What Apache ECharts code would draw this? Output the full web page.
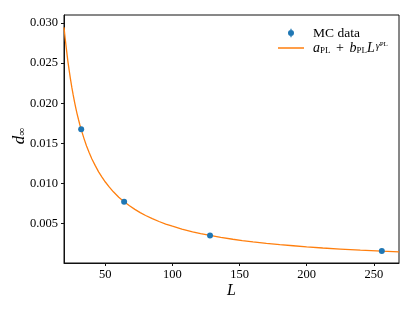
<!DOCTYPE html>
<html><head><meta charset="utf-8">
<script src="https://cdn.jsdelivr.net/npm/echarts@6/dist/echarts.min.js"></script>
<style>html,body{margin:0;padding:0;background:#fff}#c{width:415px;height:311px}</style>
</head><body><div id="c"></div>
<script>
// Data
const mcL = [32, 64, 128, 256];
const mcD = [0.01675, 0.00773, 0.00354, 0.00158];
const fitL = [19.2, 20, 21, 22, 23, 24, 25, 26, 27, 28, 29, 30, 31, 32, 34, 36, 38, 40, 42.5, 45, 47.5, 50, 53, 56, 60, 64, 68, 72, 76, 80, 85, 90, 95, 100, 107, 115, 121, 128, 136, 145, 152, 160, 170, 180, 190, 200, 212, 225, 240, 256, 268.8];
const fitD = [0.02946, 0.02818, 0.02674, 0.02535, 0.02417, 0.02304, 0.02201, 0.02107, 0.02021, 0.01940, 0.01865, 0.01798, 0.01733, 0.01675, 0.01566, 0.01468, 0.01383, 0.01306, 0.01223, 0.01146, 0.01080, 0.01019, 0.00955, 0.00897, 0.00830, 0.00774, 0.00723, 0.00678, 0.00638, 0.00602, 0.00562, 0.00527, 0.00495, 0.00468, 0.00433, 0.00399, 0.00377, 0.00353, 0.00330, 0.00306, 0.00290, 0.00273, 0.00255, 0.00239, 0.00225, 0.00211, 0.00197, 0.00184, 0.00170, 0.00157, 0.00148];
const xTicks = [50, 100, 150, 200, 250];
const yTicks = [0.005, 0.010, 0.015, 0.020, 0.025, 0.030];

const SERIF = 'Liberation Serif';
const chart = echarts.init(document.getElementById('c'), null, {renderer: 'canvas'});
const errIcon = 'path://M0,0 L0.01,0 L0.01,0.01 Z M25.99,9.99 L26,9.99 L26,10 Z M12.4,0.8 L13.6,0.8 L13.6,2.5 L12.4,2.5 Z M12.4,7.5 L13.6,7.5 L13.6,9.2 L12.4,9.2 Z M10,5 A3,3 0 1,1 16,5 A3,3 0 1,1 10,5 Z';
const lineIcon = 'path://M0,0 L0.01,0 L0.01,0.01 Z M25.99,9.99 L26,9.99 L26,10 Z M0,4.35 L26,4.35 L26,5.65 L0,5.65 Z';
const legendRich = {
  i: {fontFamily: SERIF, fontStyle: 'italic', fontSize: 14, color: '#000'},
  s: {fontFamily: SERIF, fontSize: 9, color: '#000', verticalAlign: 'bottom', padding: [4, 0, 0, 0]},
  p: {fontFamily: SERIF, fontStyle: 'italic', fontSize: 10, color: '#000', verticalAlign: 'top', padding: [0, 0, 4, 1]},
  ps: {fontFamily: SERIF, fontSize: 7, color: '#000', verticalAlign: 'top', padding: [0, 0, 1, 0]},
  t: {fontFamily: SERIF, fontSize: 14, color: '#000', padding: [0, 2, 0, 2]}
};
chart.setOption({
  animation: false,
  grid: {left: 64, right: 16, top: 15, bottom: 48, show: true, borderColor: '#111', borderWidth: 1,
         containLabel: false, outerBoundsMode: 'none'},
  legend: [
    {data: [{name: 'MC data', icon: errIcon, itemStyle: {color: '#1f77b4', borderWidth: 0}}], left: 278, top: 26, padding: 0,
     itemWidth: 26, itemHeight: 10,
     textStyle: {fontFamily: SERIF, fontSize: 13.5, color: '#000', padding: [0, 0, 0, 4], lineHeight: 14}},
    {data: [{name: 'fit', icon: lineIcon, itemStyle: {color: '#ff7f0e', borderWidth: 0}}], left: 278, top: 41, padding: 0,
     itemWidth: 26, itemHeight: 10,
     formatter: () => '{i|a}{s|PL}{t| + }{i|b}{s|PL}{i|L}{p|γ}{ps|PL}',
     textStyle: {fontFamily: SERIF, fontSize: 14, color: '#000', padding: [0, 0, 0, 4], lineHeight: 14, rich: legendRich}}
  ],
  xAxis: {
    type: 'value', min: 19.2, max: 268.8,
    name: 'L', nameLocation: 'middle', nameGap: 20, nameMoveOverlap: false,
    nameTextStyle: {fontFamily: SERIF, fontStyle: 'italic', fontSize: 16, color: '#000'},
    axisLine: {show: true, lineStyle: {color: '#111', width: 1}},
    axisTick: {show: true, length: 3, lineStyle: {color: '#111', width: 1}, customValues: xTicks},
    axisLabel: {customValues: xTicks, margin: 5, fontFamily: SERIF, fontSize: 12.5, color: '#000'},
    splitLine: {show: false}
  },
  yAxis: {
    type: 'value', min: 0.0001, max: 0.031,
    name: '{i|d}{s|∞}', nameLocation: 'middle', nameRotate: 90, nameGap: 36, nameMoveOverlap: false,
    nameTextStyle: {fontFamily: SERIF, fontSize: 16, color: '#000', padding: [0, 0, 0, 6], rich: {
      i: {fontFamily: SERIF, fontStyle: 'italic', fontSize: 17, color: '#000'},
      s: {fontFamily: SERIF, fontSize: 11, color: '#000', verticalAlign: 'bottom', padding: [5, 0, 0, 0]}
    }},
    axisLine: {show: true, lineStyle: {color: '#111', width: 1}},
    axisTick: {show: true, length: 3, lineStyle: {color: '#111', width: 1}, customValues: yTicks},
    axisLabel: {customValues: yTicks, margin: 6, fontFamily: SERIF, fontSize: 12.5, color: '#000',
      formatter: v => v.toFixed(3)},
    splitLine: {show: false}
  },
  series: [
    {name: 'fit', type: 'line', data: fitL.map((l, i) => [l, fitD[i]]), symbol: 'none', showSymbol: false,
     smooth: false, lineStyle: {color: '#ff7f0e', width: 1.3}, itemStyle: {color: '#ff7f0e'}, z: 2},
    {name: 'MC data', type: 'scatter', data: mcL.map((l, i) => [l, mcD[i]]), symbol: 'circle', symbolSize: 6,
     itemStyle: {color: '#1f77b4', opacity: 1}, z: 3}
  ]
});
</script>
</body></html>
